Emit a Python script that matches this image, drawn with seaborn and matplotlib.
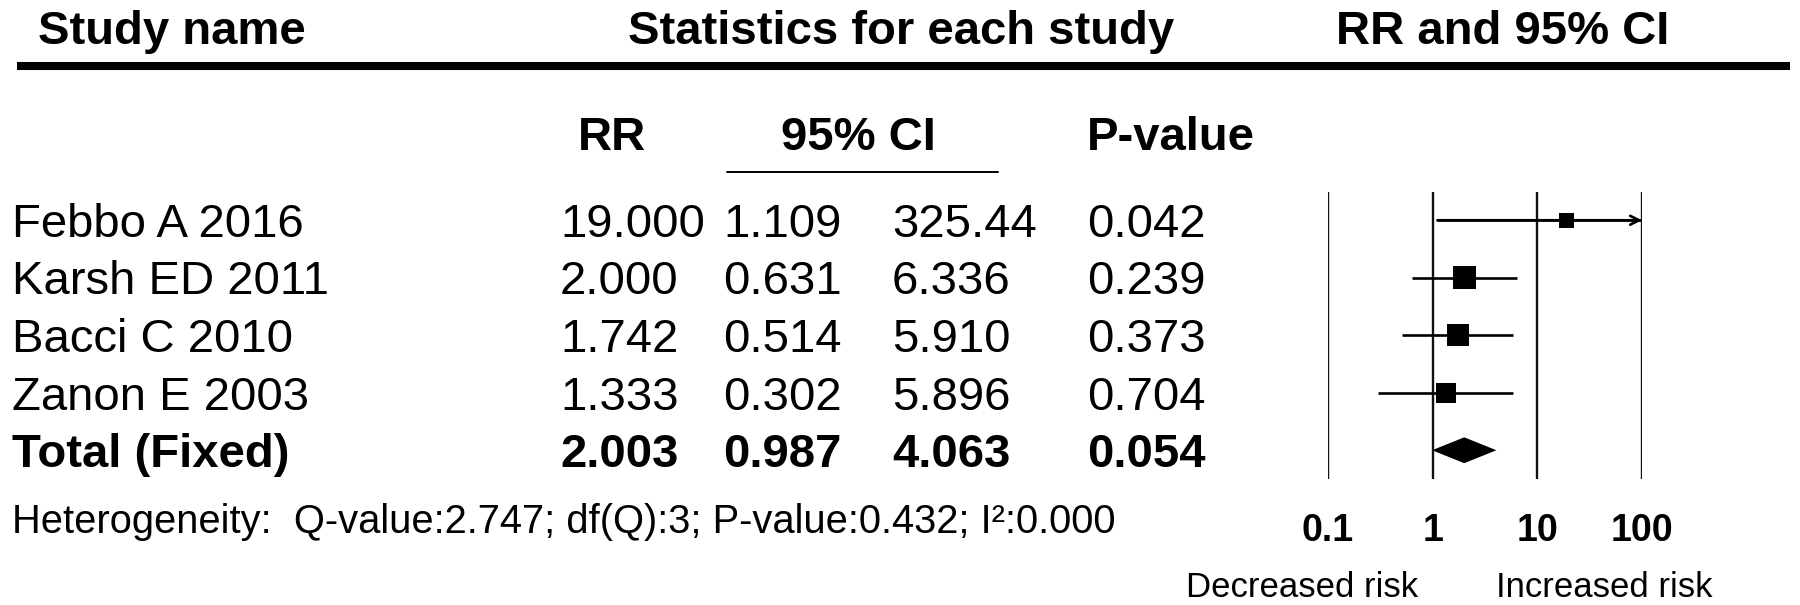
import matplotlib
matplotlib.use('Agg')
import matplotlib.pyplot as plt
from matplotlib.lines import Line2D
import numpy as np
import seaborn as sns

# data
studies = ['Febbo A 2016', 'Karsh ED 2011', 'Bacci C 2010', 'Zanon E 2003']
rr = [19.000, 2.000, 1.742, 1.333]
ci_lower = [1.109, 0.631, 0.514, 0.302]
ci_upper = [325.44, 6.336, 5.910, 5.896]
p_values = [0.042, 0.239, 0.373, 0.704]
rel_weight = [6.2, 37.6, 33.6, 22.6]

total_label = 'Total (Fixed)'
total_rr = 2.003
total_lower = 0.987
total_upper = 4.063
total_p = 0.054

het_q = 2.747
het_df = 3
het_p = 0.432
het_i2 = 0.000

axis_ticks = [0.1, 1, 10, 100]
axis_ticklabels = ['0.1', '1', '10', '100']

W, H = 1800, 605

sns.set_theme(style='white')
plt.rcParams['font.family'] = ['Liberation Sans', 'DejaVu Sans']
plt.rcParams['text.color'] = 'black'


def fx(px):
    return px / W


def fy(py):
    return 1 - py / H


def fmt(v):
    return f'{v:.3f}' if v < 100 else f'{v:.2f}'


fig = plt.figure(figsize=(W / 100, H / 100), dpi=100)
fig.patch.set_facecolor('white')

# header
fig.text(fx(38), fy(44), 'Study name', fontsize=34, fontweight='bold', va='baseline')
fig.text(fx(628), fy(44), 'Statistics for each study', fontsize=34, fontweight='bold', va='baseline')
fig.text(fx(1336), fy(44), 'RR and 95% CI', fontsize=34, fontweight='bold', va='baseline')
fig.add_artist(Line2D([fx(17), fx(1790)], [fy(66), fy(66)], lw=5.8, color='black',
                      transform=fig.transFigure, solid_capstyle='butt'))

fig.text(fx(578), fy(150), 'RR', fontsize=34, fontweight='bold', va='baseline')
fig.text(fx(781), fy(150), '95% CI', fontsize=34, fontweight='bold', va='baseline')
fig.text(fx(1087), fy(150), 'P-value', fontsize=34, fontweight='bold', va='baseline')
fig.add_artist(Line2D([fx(727), fx(998)], [fy(172), fy(172)], lw=1.4, color='black',
                      transform=fig.transFigure))

# table rows
col_x = [12, 560, 723, 892, 1087]
row_base = 237
row_step = 57.5
for i in range(len(studies)):
    y = fy(row_base + i * row_step)
    cells = [studies[i], fmt(rr[i]), fmt(ci_lower[i]), fmt(ci_upper[i]), f'{p_values[i]:.3f}']
    for x, s in zip(col_x, cells):
        fig.text(fx(x), y, s, fontsize=34, va='baseline')

y = fy(row_base + len(studies) * row_step)
cells = [total_label, fmt(total_rr), fmt(total_lower), fmt(total_upper), f'{total_p:.3f}']
for x, s in zip(col_x, cells):
    fig.text(fx(x), y, s, fontsize=34, fontweight='bold', va='baseline')

het_text = (f'Heterogeneity:  Q-value:{het_q:.3f}; df(Q):{het_df}; '
            f'P-value:{het_p:.3f}; I\u00b2:{het_i2:.3f}')
fig.text(fx(12), fy(533), het_text, fontsize=28.7, va='baseline')

# forest panel
ax_left, ax_right = 1328, 1642
ax_top, ax_bottom = 191.5, 479
ax = fig.add_axes([fx(ax_left), fy(ax_bottom), (ax_right - ax_left) / W, (ax_bottom - ax_top) / H])
ax.set_xscale('log')
ax.set_xlim(axis_ticks[0], axis_ticks[-1])
ax.set_ylim(len(studies) + 0.5, -0.5)
ax.patch.set_alpha(0)
for sp in ax.spines.values():
    sp.set_visible(False)

for t in axis_ticks:
    ax.axvline(t, color='#111111', lw=1.7, zorder=1)

rows = np.arange(len(studies))
upper_clip = np.minimum(ci_upper, axis_ticks[-1])
ax.hlines(rows, ci_lower, upper_clip, color='black', lw=1.9, zorder=2)
for r, lo, hi in zip(rows, ci_lower, ci_upper):
    if hi > axis_ticks[-1]:
        ax.annotate('', xy=(axis_ticks[-1], r), xytext=(lo, r),
                    arrowprops=dict(arrowstyle='->', lw=1.9, color='black',
                                    shrinkA=0, shrinkB=0, mutation_scale=16))

sns.scatterplot(x=rr, y=rows, size=rel_weight, sizes=(117, 274), marker='s',
                color='black', linewidth=0, legend=False, ax=ax, zorder=3)

h = 0.225
tr = len(studies)
ax.fill([total_lower, total_rr, total_upper, total_rr], [tr, tr - h, tr, tr + h],
        color='black', lw=0, zorder=3)

ax.set_yticks([])
ax.set_xticks(axis_ticks)
ax.set_xticklabels(axis_ticklabels, fontsize=27, fontweight='bold')
ax.minorticks_off()
ax.tick_params(axis='x', length=0, pad=24.5, colors='black')
ax.set_xlabel('')
ax.set_ylabel('')

fig.text(fx(1302), fy(597), 'Decreased risk', fontsize=25, ha='center', va='baseline')
fig.text(fx(1604), fy(597), 'Increased risk', fontsize=25, ha='center', va='baseline')

plt.savefig('out.png', dpi=100)
